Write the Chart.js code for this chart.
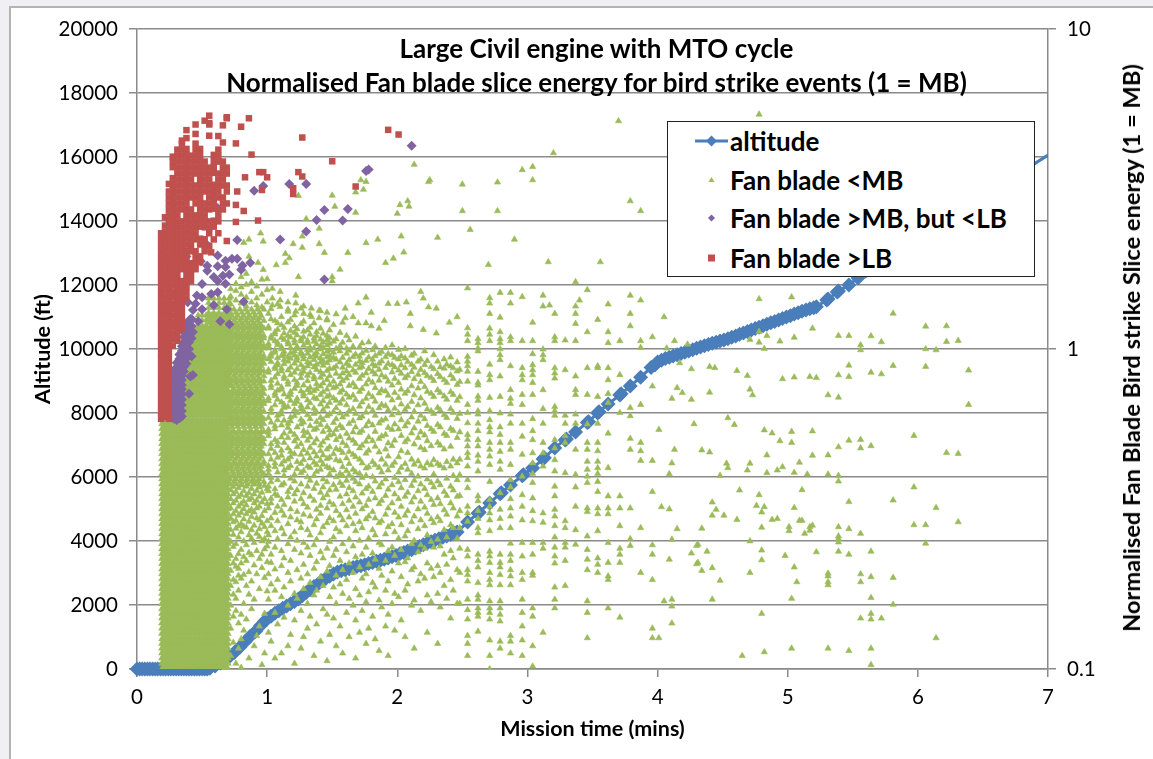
<!DOCTYPE html>
<html>
<head>
<meta charset="utf-8">
<title>Fan blade slice energy</title>
<script src="https://cdn.jsdelivr.net/npm/chart.js@4"></script>
<style>
  html, body { margin: 0; padding: 0; background: #f0f0f4; }
  #page { position: absolute; left: 0; top: 0; width: 1153px; height: 759px; overflow: hidden; font-family: Lato, sans-serif; }
  #frame { position: absolute; left: 9px; top: 6px; width: 1144px; height: 753px; background: #fff; border-left: 2px solid #b4b4b4; border-top: 2px solid #b4b4b4; box-sizing: border-box; }
  #myChart { position: absolute; left: 0; top: 0; }
  #heading { position: absolute; left: 141px; width: 911px; top: 31px; text-align: center; font-weight: 700; font-size: 26px; line-height: 34px; color: #000; white-space: nowrap; }
  #rightTitle { position: absolute; left: 1131px; top: 348px; transform: translate(-50%, -50%) rotate(-90deg); font-weight: 700; font-size: 23.6px; color: #000; white-space: nowrap; }
  #legend { position: absolute; left: 667px; top: 121px; width: 368px; height: 156px; box-sizing: border-box; background: #fff; border: 1.5px solid #222; }
  .row { position: absolute; left: 0; height: 30px; line-height: 30px; font-weight: 700; font-size: 26px; color: #000; white-space: nowrap; }
  .row svg { position: absolute; left: 25px; top: 0; }
  .row span { position: absolute; left: 62px; }
</style>
</head>
<body>
<div id="page">
  <div id="frame"></div>
  <canvas id="myChart" width="1153" height="759"></canvas>
  <div id="heading">Large Civil engine with MTO cycle<br>Normalised Fan blade slice energy for bird strike events (1 = MB)</div>
  <div id="rightTitle">Normalised Fan Blade Bird strike Slice energy (1 = MB)</div>
  <div id="legend">
    <div class="row" style="top:4px"><svg width="36" height="30"><line x1="2" y1="15" x2="35" y2="15" stroke="#4A7EBB" stroke-width="3"/><path d="M18.5 9.5 L24 15 L18.5 20.5 L13 15 Z" fill="#4A7EBB"/></svg><span>altitude</span></div>
    <div class="row" style="top:43px"><svg width="36" height="30"><path d="M18.5 12 L21.5 17 L15.5 17 Z" fill="#9BBB59"/></svg><span>Fan blade &lt;MB</span></div>
    <div class="row" style="top:81px"><svg width="36" height="30"><path d="M18.5 11.5 L22 15 L18.5 18.5 L15 15 Z" fill="#8064A2"/></svg><span>Fan blade &gt;MB, but &lt;LB</span></div>
    <div class="row" style="top:121px"><svg width="36" height="30"><rect x="15" y="11.5" width="7" height="7" fill="#C0504D"/></svg><span>Fan blade &gt;LB</span></div>
  </div>
</div>
<script>
// altitude trace (mins, ft)
const altitudeTimes = [
  0,0.02,0.04,0.06,0.08,0.1,0.12,0.14,0.16,0.18,0.2,0.22,0.24,0.26,0.28,0.3,0.32,0.34,0.36,0.38,0.4,0.42,0.44,0.46,0.48,0.5,0.52,0.54,
  0.56,0.6,0.64,0.68,0.71,0.75,0.79,0.83,0.87,0.91,0.95,0.98,
  1,1.03,1.06,1.09,1.12,1.15,1.18,1.21,1.24,1.27,1.3,1.33,1.36,1.39,1.42,1.45,1.48,1.51,1.54,
  1.57,1.6,1.63,1.66,1.69,1.72,1.75,1.78,1.81,1.84,1.87,1.9,1.93,1.96,1.99,2.02,2.05,2.08,2.11,2.14,2.17,2.2,2.23,2.26,2.29,2.32,2.35,2.38,2.41,2.44,
  2.46,2.54,2.62,2.63,2.71,2.79,2.8,2.87,2.96,2.97,3.04,3.12,3.13,3.21,3.29,3.3,3.37,3.46,3.47,3.54,3.55,3.62,3.71,3.72,3.79,3.87,3.95,
  3.98,4,4.03,4.06,4.09,4.12,4.15,4.18,4.21,4.24,4.27,4.3,4.33,4.36,4.39,4.42,4.45,4.48,4.51,4.54,4.57,4.6,4.63,4.66,4.69,4.72,4.75,4.78,4.81,4.84,4.87,4.9,4.93,4.96,4.99,5.02,5.05,5.08,5.11,5.14,5.17,5.2,5.22,
  5.3,5.31,5.38,5.39,5.47,5.54,5.6,7.5
];
const altitudeFeet = [
  0,0,0,0,0,0,0,0,0,0,0,0,0,0,0,0,0,0,0,0,0,0,0,0,0,0,0,0,
  20,90,190,300,380,520,680,850,1020,1170,1360,1490,
  1560,1650,1740,1820,1900,1970,2040,2110,2190,2290,2390,2480,2580,2650,2760,2830,2900,2970,3030,
  3070,3100,3130,3170,3200,3230,3260,3300,3330,3370,3400,3430,3470,3510,3550,3600,3640,3690,3730,3780,3830,3880,3930,3980,4020,4070,4120,4160,4200,4240,
  4280,4590,4870,4900,5190,5480,5510,5750,6040,6070,6280,6560,6600,6910,7160,7190,7410,7700,7730,8000,8040,8280,8560,8600,8840,9120,9420,
  9500,9590,9650,9700,9740,9780,9820,9860,9900,9940,9980,10020,10060,10100,10140,10180,10210,10250,10280,10320,10370,10410,10460,10500,10550,10590,10640,10680,10730,10770,10820,10860,10910,10950,11000,11040,11090,11130,11180,11220,11260,11290,11320,
  11530,11560,11780,11810,12000,12220,12440,17350
];

// Dense fill under the red and purple, where single markers cannot be told apart.
// Energies here and below are in thousandths of MB.
const solidRowsA = [100,104,108,112,116,120,124,129,134,139,144,149,154,160,166,172,178,184,191,198,205,213,221,229,237,246,255,264,274,284,294,305,316,328,340,352,365,378,392,407,422,437,453,470,487,505,523,543,563,583,603];
const solidRowsB = [102,106,110,114,118,122,126,131,136,141,146,151,157,163,169,175,181,188,195,202,209,217,225,233,241,250,259,269,279,289,300,311,322,334,346,358,372,385,400,414,429,445,461,478,496,514,533,552,572,594];
const upperRowsA = [620,643,667,691,716,743,770,798,827,857,889,921,955,990,1026,1064,1103,1143];
const upperRowsB = [631,654,678,703,729,756,784,812,842,873,905,938,972,1008,1045,1083,1123,1165];
const upperTopA = [1186,1230,1275];
const upperTopB = [1208,1252,1298,1345,1395,1440];
const speckRowsA = [378,392,422,437,453,470,487,505,523,543,583,605,627,650,674,699,725,779,808,838,869,901,934,969,1005,1042,1080,1120,1161,1204,1249,1300];
const speckRowsB = [400,414,429,461,478,496,514,533,552,572,594,616,638,662,687,712,738,765,793,853,885,918,952,987,1024,1062,1101,1141,1183,1270];
const speckRowsC = [385,407,437,445,470,505,523,552,583,605,638,674,687,725,752,793,823,853,901,934,952,1005,1024,1080,1101,1161,1226,1330];

const fanLowBlock = [
  [0.19,solidRowsA],[0.205,solidRowsB],[0.22,solidRowsA],[0.235,solidRowsB],[0.25,solidRowsA],[0.265,solidRowsB],[0.28,solidRowsA],[0.295,solidRowsB],[0.31,solidRowsA],[0.325,solidRowsB],
  [0.34,solidRowsA],[0.355,solidRowsB],[0.37,solidRowsA],[0.385,solidRowsB],[0.4,solidRowsA],[0.415,solidRowsB],[0.43,solidRowsA],[0.445,solidRowsB],[0.46,solidRowsA],[0.475,solidRowsB],
  [0.49,solidRowsA],[0.505,solidRowsB],[0.52,solidRowsA],[0.535,solidRowsB],[0.55,solidRowsA],[0.565,solidRowsB],[0.58,solidRowsA],[0.595,solidRowsB],[0.61,solidRowsA],[0.625,solidRowsB],
  [0.64,solidRowsA],[0.655,solidRowsB],[0.67,solidRowsA],[0.685,solidRowsB],[0.7,solidRowsA],
  [0.37,upperRowsA],[0.385,upperRowsB],[0.4,upperRowsA],[0.415,upperRowsB],[0.43,upperRowsA],[0.445,upperRowsB],[0.46,upperRowsA],[0.475,upperRowsB],[0.49,upperRowsA],[0.505,upperRowsB],
  [0.52,upperRowsA],[0.535,upperRowsB],[0.55,upperRowsA],[0.565,upperRowsB],[0.58,upperRowsA],[0.595,upperRowsB],[0.61,upperRowsA],[0.625,upperRowsB],[0.64,upperRowsA],[0.655,upperRowsB],[0.67,upperRowsA],[0.685,upperRowsB],[0.7,upperRowsA],
  [0.47,upperTopA],[0.5,upperTopA],[0.53,upperTopA],[0.55,upperTopB],[0.57,upperTopA],[0.59,upperTopB],[0.61,upperTopA],[0.63,upperTopB],[0.65,upperTopA],[0.67,upperTopB],[0.69,upperTopA],[0.71,upperTopB]
];

// speckled strip to the right of the block, thinning out downwards
const fanLowStrip = [
  [0.715,speckRowsA],[0.73,speckRowsB],[0.745,speckRowsC],[0.76,speckRowsA],[0.775,speckRowsB],[0.79,speckRowsC],[0.805,speckRowsA],[0.82,speckRowsB],[0.835,speckRowsC],[0.85,speckRowsA],
  [0.865,speckRowsB],[0.88,speckRowsC],[0.895,speckRowsA],[0.91,speckRowsB],[0.925,speckRowsC],[0.94,speckRowsA],[0.955,speckRowsB],[0.975,speckRowsC],
  [0.72,[362,340,318,296,272,250,226,203,182,158,134,110]],
  [0.74,[371,352,330,305,288,263,241,214,190,171,146,121]],
  [0.76,[358,336,312,291,275,246,221,209,187,166,152,104]],
  [0.78,[368,345,322,302,280,258,229,206,196,176,139,116]],
  [0.8,[375,350,328,308,284,268,236,214,192,148,124,101]],
  [0.82,[360,334,316,294,279,251,224,197,160,132]],
  [0.84,[372,348,325,305,277,244,218,182,143]],
  [0.86,[355,338,311,289,262,231,201,171,108]],
  [0.88,[366,342,315,299,272,256,227,188,154]],
  [0.9,[378,352,330,309,281,248,211,165,118]],
  [0.92,[361,336,318,296,265,234,198,127]],
  [0.94,[370,346,322,292,274,259,221,178,136]],
  [0.96,[356,332,301,285,251,228,207,103]],
  [0.98,[374,340,312,278,255,237,193,149,112]],
  [1,[365,328,290,268,242,216,175]]
];

// 1 to 2.5 mins, a loose clumpy field, events pile up a little just under 1
const fanLowField = [
  [1.01,[1290,1175,1160,1040,1022,1005,930,860,845,702,688,610,560,548,535,470,432,420,408,372,360,318,262,250,198,165,130]],
  [1.03,[1335,1240,1095,1078,965,948,912,796,770,755,650,632,590,505,488,452,396,384,341,330,296,280,228,215,184,122]],
  [1.06,[1225,1130,1112,1060,990,975,880,868,815,728,715,668,575,562,520,474,440,428,365,352,308,270,240,205,176,150,108]],
  [1.08,[1380,1205,1150,1048,1030,938,905,890,836,780,742,695,620,600,512,498,458,412,390,348,322,290,255,190,138]],
  [1.11,[1260,1188,1085,1015,1000,952,870,852,760,748,682,640,625,578,530,482,465,436,375,338,312,275,234,210,168,112]],
  [1.13,[1165,1120,1070,982,960,925,898,822,808,722,670,655,598,545,510,446,418,402,380,326,302,264,222,180,145]],
  [1.16,[1310,1212,1100,1052,1035,945,915,858,790,775,708,660,585,568,528,490,452,425,358,344,284,246,200,158,118]],
  [1.18,[1235,1140,1088,1008,972,934,876,830,735,720,690,612,595,552,478,460,432,394,368,316,298,258,218,188,128]],
  [1.21,[1275,1178,1125,1065,1042,985,955,902,845,800,752,675,645,618,540,515,470,405,386,352,334,268,236,172,142,104]],
  [1.23,[1155,1105,1018,1002,940,920,866,785,768,700,685,632,570,525,495,444,422,362,310,292,252,204,166]],
  [1.26,[1340,1198,1075,1058,978,962,892,838,812,738,665,648,602,582,505,468,438,410,378,340,288,276,230,192,152,116]],
  [1.28,[1220,1135,1090,1025,950,930,872,850,770,725,712,640,590,555,535,484,450,416,355,328,304,248,212,178,126]],
  [1.31,[1145,1062,1045,995,968,910,884,826,795,745,692,658,622,548,518,472,430,398,372,320,272,240,198,160,134]],
  [1.33,[1280,1168,1110,1012,990,942,900,842,758,730,678,605,575,530,492,456,426,388,346,300,262,226,186,146]],
  [1.36,[1205,1080,1055,1005,958,926,878,820,805,740,705,652,628,560,508,476,442,402,366,336,282,244,206,170,110]],
  [1.38,[1130,1098,1036,975,948,895,862,778,750,698,635,592,565,522,462,434,414,380,315,294,254,216,176,138]],
  [1.41,[1315,1160,1072,1020,998,936,908,848,815,765,720,672,610,580,500,480,448,420,356,324,306,266,232,194,122]],
  [1.43,[1118,1050,1010,965,918,888,832,782,734,688,646,600,552,512,466,436,392,370,342,278,222,182,154]],
  [1.46,[1240,1102,1068,1028,982,944,905,856,802,748,710,662,618,572,526,486,454,428,384,350,318,286,238,202,148,106]],
  [1.48,[1145,1082,1040,992,952,922,868,824,772,716,680,626,558,538,494,458,424,406,362,332,296,250,210,168,128]],
  [1.51,[1190,1056,975,938,870,792,755,702,636,588,542,470,418,376,326,290,258,226,180,144]],
  [1.53,[1285,1074,1002,928,882,838,762,690,654,604,560,520,488,450,398,364,312,274,236,196,160,118]],
  [1.56,[1125,1022,985,910,818,776,732,676,630,576,532,484,446,408,382,346,302,268,218,184,136]],
  [1.58,[1210,1048,940,876,840,796,744,696,612,566,510,474,428,402,374,328,292,246,204,172,112]],
  [1.61,[1100,1005,968,900,852,810,722,668,624,544,498,456,416,388,352,314,280,232,190,150]],
  [1.63,[1066,990,925,886,830,768,706,640,584,526,478,438,404,368,336,298,254,214,166,126]],
  [1.66,[1260,1018,945,858,780,716,650,596,550,518,468,420,394,360,322,284,242,200,158]],
  [1.68,[1095,962,894,844,760,694,628,570,506,460,412,384,344,306,270,224,178,142,108]],
  [1.71,[1014,948,915,872,808,736,662,608,548,490,452,408,378,332,288,252,208,170,130]],
  [1.73,[1042,970,905,880,826,752,682,616,556,500,440,396,354,316,276,228,192,152]],
  [1.76,[1205,988,920,840,776,700,634,574,514,472,424,402,366,324,294,240,198,162,120]],
  [1.78,[1050,942,868,800,724,660,592,530,482,428,372,338,300,256,212,174,134]],
  [1.81,[994,928,896,850,786,708,642,578,516,444,398,358,310,272,230,186,146]],
  [1.83,[1020,952,884,834,756,686,620,552,496,434,386,342,296,262,220,180,124]],
  [1.86,[1160,968,902,862,798,728,654,586,524,476,426,370,328,286,248,206,164,114]],
  [1.88,[980,916,828,744,670,598,534,452,412,380,336,290,244,196,156]],
  [1.91,[1010,944,874,816,738,664,604,540,486,436,392,348,304,264,218,176,136]],
  [1.93,[965,900,792,716,644,568,508,462,418,364,318,278,234,188,148,110]],
  [1.96,[1028,958,892,846,770,692,622,560,498,432,376,330,284,240,202,160]],
  [1.98,[940,878,808,730,652,582,518,442,396,352,308,268,226,172,132]],
  [2.01,[995,930,858,784,704,630,562,460,412,384,340,298,256,214,168]],
  [2.03,[950,890,838,748,672,600,536,480,426,368,322,282,236,194,142]],
  [2.06,[1002,936,872,812,726,646,574,512,438,390,346,302,260,216,176,126]],
  [2.08,[912,826,740,660,590,522,474,420,356,312,270,222,184]],
  [2.11,[955,894,848,766,684,612,546,452,408,374,332,288,246,204,158]],
  [2.13,[968,876,806,718,638,566,504,436,388,344,300,252,208,164,116]],
  [2.16,[915,832,754,668,594,528,446,400,360,316,274,232,188]],
  [2.18,[928,862,790,702,620,550,492,430,378,334,292,244,198,152]],
  [2.21,[985,892,842,762,676,604,538,484,424,366,320,280,238,192]],
  [2.23,[918,824,736,648,576,516,440,392,350,306,262,214,170,130]],
  [2.26,[880,814,726,640,562,498,434,382,338,294,250,206,162]],
  [2.28,[958,866,796,710,628,552,450,406,370,326,286,240,194]],
  [2.31,[915,836,744,656,580,510,438,386,342,298,254,210,172,120]],
  [2.33,[878,818,730,644,570,500,432,376,328,290,242,200,156]],
  [2.36,[930,870,800,712,622,544,486,424,358,314,272,228,182]],
  [2.38,[895,784,696,610,536,444,394,348,304,258,212,166]],
  [2.41,[942,884,828,734,650,564,496,430,372,330,282,234,190,144]],
  [2.43,[872,808,720,632,556,452,402,362,318,276,222,176]],
  [2.46,[1260,910,852,774,690,606,528,440,390,346,300,256,204,160]],
  [2.48,[862,790,708,628,550,452,404,348,312,276,238,200,160]]
];

// from 2.5 mins the events fall on distinct time columns
const fanLowColumns = [
  [2.54,[1550,1163,1110,1060,947,915,885,851,792,670,632,587,540,521,497,473,457,430,390,368,322,307,289,236,225,204,197,188,165,153,143,127,120,110]],
  [2.62,[1075,1045,1005,985,850,785,770,711,690,640,625,585,555,520,497,465,445,415,347,335,312,295,276,266,228,218,208,186,170,165,155,150,146,131]],
  [2.71,[1445,1390,1290,1160,1110,1060,895,830,800,705,640,600,570,550,510,485,462,435,385,338,322,307,292,270,233,225,215,200,190,183,163,155,150,143,123,110,100]],
  [2.79,[1500,1255,1130,1075,1045,1000,958,925,822,710,630,570,540,510,478,445,420,355,315,295,276,228,215,208,197,183,163,155,148,141,122,116]],
  [2.87,[1500,1390,1090,1060,885,745,700,675,625,585,510,485,435,390,370,340,318,300,276,247,228,218,204,195,183,127,122,112]],
  [2.96,[1455,1060,873,830,800,720,670,585,533,468,400,350,322,292,248,225,200,190,165,150,136,123,110]],
  [3.04,[1210,1060,965,892,860,830,785,720,605,555,520,473,440,408,382,342,312,290,248,228,200,196,155,146,118,102]],
  [3.12,[1470,1360,998,958,925,745,650,585,510,473,430,307,287,248,238,130]],
  [3.21,[1290,1090,1060,872,840,810,660,640,620,520,490,450,415,372,347,315,300,280,258,240,225,214,180,165,155]],
  [3.29,[1065,860,620,585,535,510,410,290,276,248,240,218,182]],
  [3.37,[1620,1360,1290,1200,1060,822,745,720,625,585,485,405,370,322,272,245]],
  [3.46,[1530,1130,873,720,582,510,485,445,420,400,382,318,310,260,236,220,204,163,150,125]],
  [3.54,[1235,885,873,710,585,510,480,445,425,408,385,358,318,305,270,222,212,200]],
  [3.62,[1380,1130,1045,873,800,725,680,545,425,347,318,305,248,215,195,190,155]],
  [3.71,[1060,830,632,347,318,280,238,228,215,145]],
  [3.79,[1470,1290,1180,655,618,525,485,318,255,243]],
  [3.87,[1060,1010,670,510,480,448,276,200]],
  [3.96,[1090,765,448,358,244,228,190,134,125]]
];

// sparse tail, read one by one
const fanLowTail = [
  [4.01,[560,125]],[4.03,[321]],[4.05,[1259,163]],[4.07,[1005]],[4.09,[407,316,220]],[4.11,[700,440,254,165,157,139]],[4.13,[1060,485]],[4.15,[756,274]],[4.17,[904]],[4.19,[730]],
  [4.23,[1034]],[4.26,[866,695,230]],[4.28,[583]],[4.3,[243,213]],[4.31,[245,215]],[4.34,[483,275,203]],[4.38,[233]],[4.4,[880,732,476]],[4.42,[332,302,207,165]],[4.44,[873]],[4.45,[315]],[4.48,[402,189]],[4.51,[302]],[4.53,[439]],[4.54,[609,425]],
  [4.59,[580]],[4.61,[855,293]],[4.63,[362]],[4.65,[110]],[4.69,[825,418]],[4.71,[1070,748,439,251,200]],[4.73,[718]],[4.76,[324]],[4.78,[1433,1133,1049,350]],[4.8,[309,277,235,219,149]],
  [4.82,[1002,558,321,113]],[4.84,[1100,466,410]],[4.88,[546,293]],[4.92,[418,295]],[4.94,[1057,516]],[4.96,[806,428]],[4.98,[226]],[5.01,[278,270]],[5.03,[1453,552,510,166,116]],[5.05,[1087,816,411,319,208]],
  [5.07,[187]],[5.09,[442,291]],[5.11,[363,291]],[5.13,[265]],[5.15,[406]],[5.17,[819,278,271]],[5.19,[1160,554,465,281]],[5.22,[813,232]],[5.31,[718,466,406,199,195,187,183,116]],
  [5.39,[1100,829,706,494,402,386,278,260,255,249,233]],[5.47,[1100,889,819,518,333,274,228,114]],[5.56,[1029,993,521,490,265,198,187,144]],[5.64,[1098,845,498,233,194,167,149,143,116,103]],[5.72,[1052,835,144]],
  [5.81,[1292,887,337,193,159]],[5.97,[536,370,282]],[6.06,[1177,1000,881,282,247]],[6.14,[993,319,125]],[6.22,[1180,1054,474]],[6.31,[1062,471,288]],[6.39,[858,670]]
];

// thin scatter above the main mass
const fanLowHigh = [
  [0.72,[1380,1460,1540]],[0.76,[1420,1520,1600]],[0.8,[1390,1480,1560,1680]],[0.84,[1360,1450,1590,1720]],[0.88,[1400,1510,1620]],[0.92,[1370,1440,1570]],[0.96,[1350,1480,1650]],[1,[1400,1530]],
  [0.82,[2150]],[0.86,[2200,1945]],[0.93,[1860]],[0.95,[2300]],[0.97,[2170,1770]],[1,[1655]],[1.04,[1545]],[1.07,[1830]],[1.14,[1985,1860]],[1.17,[1925]],[1.2,[2130]],[1.24,[3015,1680]],[1.27,[2250,2075]],
  [1.3,[2550]],[1.4,[2380,2130]],[1.44,[2000]],[1.5,[3020,1680,1630]],[1.52,[2787]],[1.56,[1772]],[1.62,[2000]],[1.68,[3090,2670]],[1.72,[3373]],[1.74,[3150]],[1.76,[3333,2145,1450]],[1.85,[2200]],[1.91,[1860]],[1.93,[1385]],[1.97,[1920]],
  [1.04,[1370,1440]],[1.1,[1355,1420,1510]],[1.16,[1330,1400]],[1.22,[1310,1390,1470]],[1.28,[1290,1360]],[1.34,[1260,1340]],[1.4,[1250,1320]],[1.46,[1230,1300]],[1.6,[1250,1340]],[1.7,[1205,1390]],[1.8,[1180,1300]],[1.9,[1225]],[2.1,[1180,1290]],[2.2,[1150,1440]],[2.3,[1120,1340]],[2.4,[1210]],
  [2,[2650,1385]],[2.02,[2820]],[2.03,[2250]],[2.05,[2005]],[2.07,[1400]],[2.08,[2900]],[2.09,[2790]],[2.13,[3770]],[2.18,[1510]],[2.24,[3330,1352]],[2.25,[3373]],[2.31,[2230]],[2.5,[3270,2700]],[2.56,[2360]],[2.7,[1833]],[2.77,[3320,2700]],[2.9,[2200]],[2.96,[3630]],
  [3.04,[3710,3373]],[3.16,[1870]],[3.17,[1370]],[3.2,[4098]],[3.4,[1420]],[3.56,[1870]],[3.7,[5157]],[3.79,[2900]],[3.87,[2700,1420]],[4.78,[5412]]
];

// >MB but <LB
const fanMidColumns = [
  [0.285,[605,625,650,675,700,725,750,775,800,830,860]],[0.305,[600,618,640,662,688,712,738,764,790,818,845,875,905]],[0.325,[608,632,655,680,705,730,758,785,812,840,868,898,930,962]],[0.345,[615,640,668,695,722,748,772,800,826,855,885,918,950,985,1020]],
  [0.36,[850,880,912,945,980,1015,1052,1090,1130]],[0.38,[900,935,970,1010,1045,1085,1125,1165,1205]],[0.4,[725,960,1000,1050,1100,1150,1210,1650]],[0.42,[950,1080,1180,1240]],
  [0.41,[820,1240]],[0.43,[830,1130,1325]],[0.38,[1945]],[0.39,[1400]],[0.45,[1385]],[0.46,[1470]],[0.47,[1220]],[0.49,[1880]],[0.5,[1330,1450,1595]],[0.51,[2490]],
  [0.54,[1755,1820,2115]],[0.57,[1485]],[0.59,[1370,1680]],[0.62,[1505,1630,1815,1960,2760]],[0.64,[1220]],[0.66,[1695]],[0.68,[1600,1805,1888]],[0.69,[1330]],[0.71,[1195,1710]],[0.73,[1915]],[0.77,[1915,2190]],
  [0.8,[1770]],[0.81,[1825]],[0.82,[1405]],[0.87,[1860]],[0.9,[3120]],[0.97,[3230]],[1.1,[2200]],[1.17,[3278]],[1.3,[3278,2330]],[1.38,[2530]],[1.44,[2718,1650]],[1.58,[2520]],[1.62,[2740]],[1.76,[3600]],[1.78,[3640]],[2.11,[4320]]
];

// >LB
const fanHighColumns = [
  [0.185,[605,632,660,689,719,751,784,819,855,892,931,972,1015,1060,1106,1155,1206,1259,1314,1372,1432,1495,1561,1630,1701,1776,1854,1935,2020,2109,2202,2299]],
  [0.215,[612,640,668,698,728,760,795,828,865,902,942,985,1028,1072,1120,1170,1220,1275,1330,1388,1450,1512,1580,1650,1722,1798,1876,1958,2045,2135,2228,2325,2430,2580]],
  [0.245,[605,632,660,689,719,751,784,819,855,892,931,972,1015,1060,1106,1155,1206,1259,1314,1372,1432,1495,1561,1630,1701,1776,1854,1935,2020,2109,2202,2299,2400,2505,2615,2730,2850,2975,3106,3280]],
  [0.275,[1025,1072,1118,1168,1218,1272,1328,1385,1448,1510,1578,1648,1720,1795,1874,1956,2042,2132,2225,2322,2425,2530,2642,2758,2880,3005,3138,3275,3420,3700,3860,3990]],
  [0.31,[1060,1106,1155,1206,1259,1314,1372,1432,1495,1561,1630,1701,1776,1854,1935,2020,2109,2202,2299,2400,2505,2615,2730,2850,2975,3106,3243,3385,3534,3689,3852,4021,4198]],
  [0.345,[1155,1206,1259,1314,1372,1432,1495,1561,1630,1776,1854,1935,2020,2109,2202,2299,2400,2505,2730,2850,2975,3106,3243,3385,3534,3689,3852,4021,4198,4383,4480]],
  [0.38,[1440,1505,1572,1640,1712,1788,1866,1948,2030,2120,2212,2310,2412,2518,2628,2745,2866,2990,3122,3260,3402,3552,3708,3872,4042,4220,4560,4830]],
  [0.415,[1630,1701,1776,1854,2020,2109,2202,2299,2400,2505,2615,2730,2975,3106,3243,3385,3534,3689,3852,4021]],
  [0.45,[1776,1854,1935,2020,2202,2299,2400,2505,2615,2850,2975,3106,3243,3534,3689,3852,4021,4198,4383,4700,5030]],
  [0.485,[1866,1948,2120,2212,2412,2518,2628,2745,2866,2990,3122,3260,3402,3552,3708,3872,4042,4220]],
  [0.52,[2020,2109,2202,2400,2505,2615,2730,2850,3106,3243,3385,3534,3689,3852,5170]],
  [0.555,[2100,2299,2400,2505,2730,2850,2975,3106,3243,3385,3534,3689,4640,5030,5080,5360]],
  [0.59,[2200,2412,2518,2745,2866,2990,3122,3260,3552,3708,3872,4042]],
  [0.625,[2300,2505,2615,2730,2975,3106,3243,3385,3534,3852,4021,4198,4630]],
  [0.66,[2730,2850,2975,3243,3385,3534,3689,3852,4420,5000]],
  [0.69,[2175,2850,3106,3243,3534,3689,5260,5300]],
  [0.57,[2005]],[0.76,[4390,2820,2495]],[0.77,[3106]],[0.8,[4950]],[0.82,[2700]],[0.83,[3440]],[0.86,[5260]],[0.88,[4050]],[0.93,[2520]],[0.94,[3570]],[0.96,[3140]],[0.97,[3570]],[1,[3440]],[1.2,[3180,3050]],[1.24,[3570]],[1.27,[4580,3460]],[1.5,[3860]],[1.68,[3220]],[1.93,[4840]],[2.01,[4680]]
];

const xTicksMax = 7;
const altitudeMax = 20000;
const energyTicks = [0.1, 1, 10];

function columnsToPoints(cols) {
  return cols.flatMap(function (c) {
    return c[1].map(function (v) { return { x: c[0], y: v / 1000 }; });
  });
}

const ctx = document.getElementById('myChart');
const gridGrey = '#8a8a8a';
const tickFont = { family: 'Lato', size: 20.5 };
const axisTitleFont = { family: 'Lato', size: 21.5, weight: 'bold' };

new Chart(ctx, {
  type: 'scatter',
  data: {
    datasets: [
      {
        label: 'altitude',
        data: altitudeTimes.map(function (t, i) { return { x: t, y: altitudeFeet[i] }; }),
        yAxisID: 'y',
        showLine: true,
        clip: { left: 8, bottom: 8, right: 0, top: 0 },
        borderColor: '#4A7EBB',
        backgroundColor: '#4A7EBB',
        borderWidth: 3,
        pointStyle: 'rectRot',
        pointRadius: 7.5,
        pointBorderWidth: 0,
        order: 4
      },
      {
        label: 'Fan blade <MB',
        data: columnsToPoints([].concat(fanLowBlock, fanLowStrip, fanLowField, fanLowColumns, fanLowTail, fanLowHigh)),
        yAxisID: 'y2',
        backgroundColor: '#9BBB59',
        borderColor: '#9BBB59',
        pointStyle: 'triangle',
        pointRadius: 3.6,
        pointBorderWidth: 0.6,
        order: 3
      },
      {
        label: 'Fan blade >MB, but <LB',
        data: columnsToPoints(fanMidColumns),
        yAxisID: 'y2',
        backgroundColor: '#8064A2',
        borderColor: '#8064A2',
        pointStyle: 'rectRot',
        pointRadius: 5,
        pointBorderWidth: 0,
        order: 2
      },
      {
        label: 'Fan blade >LB',
        data: columnsToPoints(fanHighColumns),
        yAxisID: 'y2',
        backgroundColor: '#C0504D',
        borderColor: '#C0504D',
        pointStyle: 'rect',
        pointRadius: 4.6,
        pointBorderWidth: 0,
        order: 1
      }
    ]
  },
  options: {
    responsive: false,
    animation: false,
    devicePixelRatio: 1,
    layout: { padding: { top: 29 } },
    plugins: { legend: { display: false }, title: { display: false }, tooltip: { enabled: false } },
    scales: {
      x: {
        type: 'linear',
        min: 0,
        max: xTicksMax,
        afterFit: function (scale) { scale.height = 90; },
        ticks: { stepSize: 1, color: '#000', font: tickFont, padding: 8, maxRotation: 0 },
        grid: { drawOnChartArea: false, color: gridGrey, lineWidth: 1.5, tickLength: 8 },
        border: { color: gridGrey, width: 1.5 },
        title: { display: true, text: 'Mission time (mins)', color: '#000', font: axisTitleFont, padding: { top: 0, bottom: 17 } }
      },
      y: {
        position: 'left',
        min: 0,
        max: altitudeMax,
        afterFit: function (scale) { scale.width = 137; },
        ticks: { stepSize: 2000, color: '#000', font: tickFont, padding: 11, callback: function (v) { return String(v); } },
        grid: { color: gridGrey, lineWidth: 1.5, tickLength: 8 },
        border: { color: gridGrey, width: 1.5 },
        title: { display: true, text: 'Altitude (ft)', color: '#000', font: axisTitleFont, padding: { top: 30, bottom: 0 } }
      },
      y2: {
        type: 'logarithmic',
        position: 'right',
        min: 0.1,
        max: 10,
        afterFit: function (scale) { scale.width = 105; },
        afterBuildTicks: function (scale) { scale.ticks = energyTicks.map(function (v) { return { value: v }; }); },
        ticks: { color: '#000', font: tickFont, padding: 11, callback: function (v) { return String(v); } },
        grid: { drawOnChartArea: false, color: gridGrey, lineWidth: 1.5, tickLength: 8 },
        border: { color: gridGrey, width: 1.5 }
      }
    }
  }
});
</script>
</body>
</html>
